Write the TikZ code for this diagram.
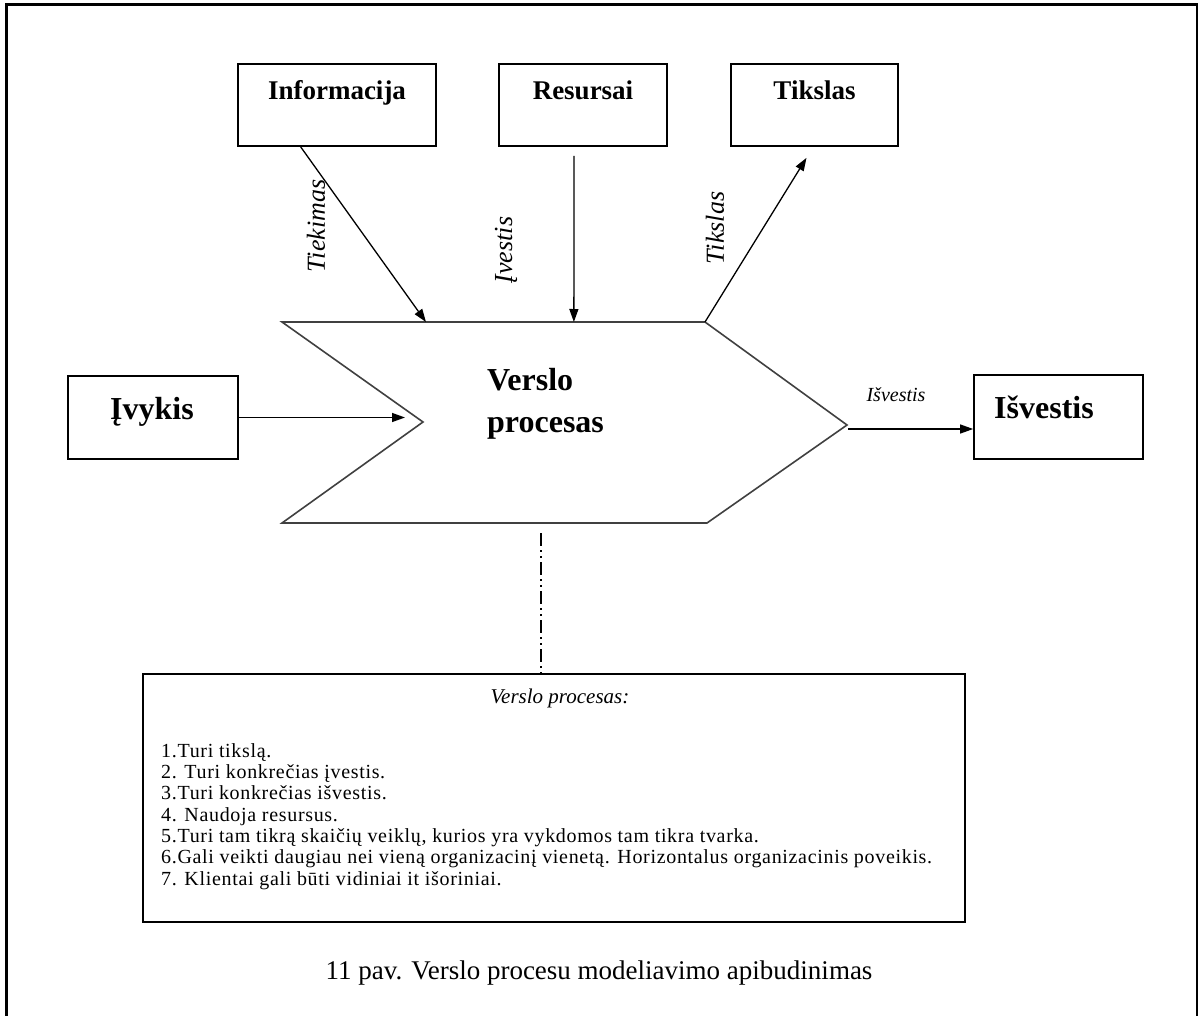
\documentclass[tikz,border=0pt]{standalone}
\usepackage{fontspec}
\setmainfont{Liberation Serif}
\usetikzlibrary{arrows.meta,calc}

\begin{document}
\begin{tikzpicture}[x=1pt,y=-1pt,
  box/.style={draw, line width=1.7pt, inner sep=0pt},
  proc/.style={draw=black!75, line width=1.6pt, line join=miter},
  arr/.style={line width=1.3pt, -{Triangle[length=13pt,width=9pt]}},
  boxlabel/.style={font=\fontsize{27}{32}\selectfont\bfseries, inner sep=0pt, anchor=base},
  biglabel/.style={font=\fontsize{32}{42}\selectfont\bfseries, inner sep=0pt},
  flowlabel/.style={font=\fontsize{26}{30}\selectfont\itshape, inner sep=0pt, rotate=90},
  dashdot/.style={line width=1.8pt, dash pattern=on 13pt off 4pt on 2pt off 4pt on 2pt off 4pt},
]
\useasboundingbox (0,0) rectangle (1198,1016);

% page frame, open at the bottom
\draw[line width=3pt] (6,1016) -- (6,5) -- (1197,5) -- (1197,1016);

% top boxes
\node[box, minimum width=198pt, minimum height=82pt] (info) at (337,105) {};
\node[box, minimum width=168pt, minimum height=82pt] (res) at (583,105) {};
\node[box, minimum width=167pt, minimum height=82pt] (tik) at (814.5,105) {};
\node[boxlabel] (infoT) at (337,100) {Informacija};
\node[boxlabel] (resT) at (583,100) {Resursai};
\node[boxlabel] (tikT) at (814.5,100) {Tikslas};

% side boxes
\node[box, minimum width=170pt, minimum height=83pt] (ivy) at (153,417.5) {};
\node[box, minimum width=169pt, minimum height=84pt] (isv) at (1058.5,417) {};
\node[biglabel, anchor=base] (ivyT) at (152,419) {Įvykis};
\node[biglabel, anchor=base] (isvT) at (1044,418) {Išvestis};

% process chevron
\coordinate (tl) at (282,322);
\coordinate (tr) at (705,322);
\coordinate (tip) at (847,425);
\coordinate (br) at (707,523);
\coordinate (bl) at (282,523);
\coordinate (notch) at (423,422);
\draw[proc] (tl) -- (tr) -- (tip) -- (br) -- (bl) -- (notch) -- cycle;
% a multi-line node sits on the baseline of its last line
\node[biglabel, anchor=base west, align=left] (procT) at (487,432) {Verslo\\procesas};

% flows into and out of the process
\draw[arr] ($(info.south west)!0.318!(info.south east)$) -- ($(tl)!0.3404!(tr)$);
\draw[arr] ([xshift=-9pt,yshift=-9pt]res.south) -- ($(tl)!0.69!(tr)$);
\draw[arr] (tr) -- ([xshift=-8pt,yshift=-11pt]tik.south);
\draw[arr] (ivy.east) -- ($(ivy.east -| notch)+(-18,0)$);
\draw[arr] ($(tip)+(1,4)$) -- ([yshift=-12pt]isv.west);

\node[flowlabel] (tiekT) at (316,226) {Tiekimas};
\node[flowlabel] (ivesT) at (506,250) {Įvestis};
\node[flowlabel] (tikslT) at (715,228) {Tikslas};
\node[font=\fontsize{20}{24}\selectfont\itshape, inner sep=0pt] (isvL) at (896,395) {Išvestis};

% description box
\node[box, minimum width=822pt, minimum height=248pt] (desc) at (554,798) {};
\node[font=\fontsize{21}{24}\selectfont\itshape, inner sep=0pt, anchor=base] (descT) at (560,703) {Verslo procesas:};
\node[font=\fontsize{20}{21.3}\selectfont\addfontfeatures{LetterSpace=3.4}, inner sep=0pt,
      anchor=base west, align=left] (descL) at (161,885)
  {1.Turi tikslą.\\
   2. Turi konkrečias įvestis.\\
   3.Turi konkrečias išvestis.\\
   4. Naudoja resursus.\\
   5.Turi tam tikrą skaičių veiklų, kurios yra vykdomos tam tikra tvarka.\\
   6.Gali veikti daugiau nei vieną organizacinį vienetą. Horizontalus organizacinis poveikis.\\
   7. Klientai gali būti vidiniai it išoriniai.};

\coordinate (ddtop) at ($(bl)!0.61!(br)+(0,10)$);
\draw[dashdot] (ddtop) -- (ddtop |- desc.north);

% caption
\node[font=\fontsize{27}{32}\selectfont, inner sep=0pt, anchor=base] (cap) at (599,979)
  {11 pav. Verslo procesu modeliavimo apibudinimas};
\end{tikzpicture}
\end{document}
